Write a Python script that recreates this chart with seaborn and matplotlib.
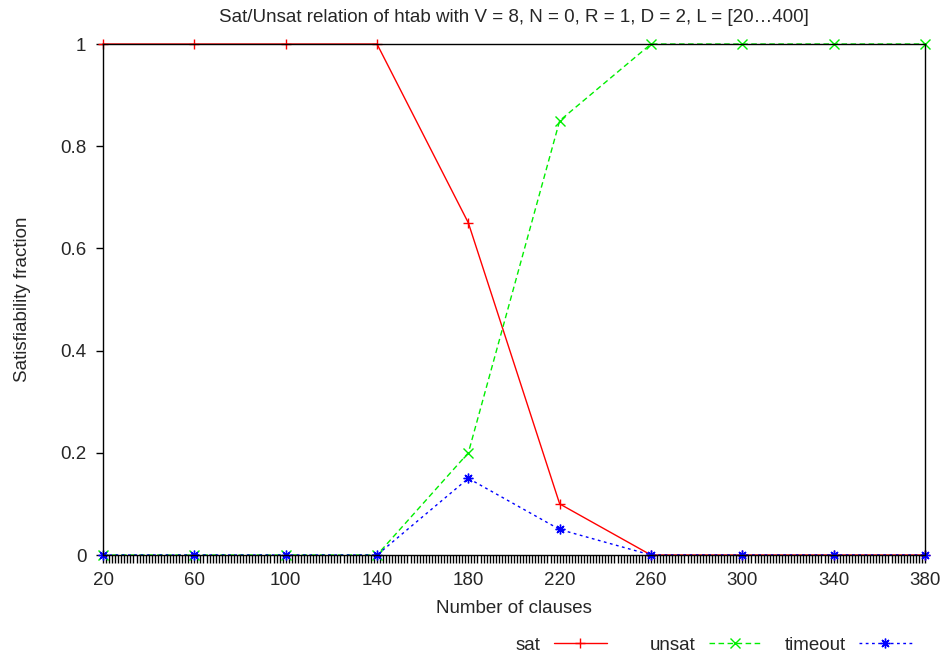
import numpy as np
import pandas as pd
import matplotlib
matplotlib.use("Agg")
import matplotlib.pyplot as plt
from matplotlib.ticker import MultipleLocator
import seaborn as sns

# data
clauses = [20, 60, 100, 140, 180, 220, 260, 300, 340, 380]
sat = [1, 1, 1, 1, 0.65, 0.1, 0, 0, 0, 0]
unsat = [0, 0, 0, 0, 0.2, 0.85, 1, 1, 1, 1]
timeout = [0, 0, 0, 0, 0.15, 0.05, 0, 0, 0, 0]
yticks = [0, 0.2, 0.4, 0.6, 0.8, 1]
ytick_labels = ["0", "0.2", "0.4", "0.6", "0.8", "1"]

FS = 13.5

sns.set_style("white")
plt.rcParams['font.family'] = ['Liberation Sans', 'DejaVu Sans']
plt.rcParams['font.size'] = FS

fig = plt.figure(figsize=(9.46, 6.59), dpi=100)
ax = fig.add_axes([0.1089, 0.1578, 0.8689, 0.7754])

# series: label, values, colour, marker, linestyle, markersize
series = [
    ("sat", sat, "#ff0000", "+", "-", 7),
    ("unsat", unsat, "#00ee00", "x", (0, (4, 2.5)), 6.5),
    ("timeout", timeout, "#0000ff", (8, 2, 0), (0, (2, 2.5)), 7),
]
for label, vals, col, mk, ls, ms in series:
    df = pd.DataFrame({"x": clauses, "y": vals})
    sns.lineplot(data=df, x="x", y="y", ax=ax, color=col, marker=mk,
                 markersize=ms, markeredgecolor=col, markeredgewidth=1.0,
                 linewidth=1.0, linestyle=ls, label=label,
                 clip_on=False, zorder=3)

ax.set_xlim(20, 380)
ax.set_ylim(0, 1)
ax.set_xticks(clauses)
ax.xaxis.set_minor_locator(MultipleLocator(4 / 3))
ax.set_yticks(yticks)
ax.set_yticklabels(ytick_labels)

# border in front, like gnuplot
for s in ax.spines.values():
    s.set_color("black")
    s.set_linewidth(1.0)
    s.set_visible(True)
    s.set_zorder(4)

ax.tick_params(axis="x", which="both", direction="out", bottom=True,
               length=6, width=1, color="black", pad=6, labelsize=FS)
ax.tick_params(axis="y", which="major", direction="out", left=True,
               length=5, width=1, color="black", pad=7, labelsize=FS)

ax.set_title("Sat/Unsat relation of htab with V = 8, N = 0, R = 1, D = 2, L = [20…400]",
             fontsize=FS, pad=16)
ax.set_xlabel("Number of clauses", fontsize=FS, labelpad=8)
ax.set_ylabel("Satisfiability fraction", fontsize=FS, labelpad=21)

# gnuplot-style key: each entry right-justified in its own column
ax.get_legend().remove()
handles, labels = ax.get_legend_handles_labels()
key_right = [607, 762, 912]
for h, l, xr in zip(handles, labels, key_right):
    fig.legend([h], [l], loc="center right", bbox_to_anchor=(xr / 946, 0.021),
               frameon=False, markerfirst=False, numpoints=1,
               handlelength=2.85, handletextpad=0.7, borderpad=0,
               borderaxespad=0, fontsize=FS)

fig.savefig("out.png", dpi=100)
